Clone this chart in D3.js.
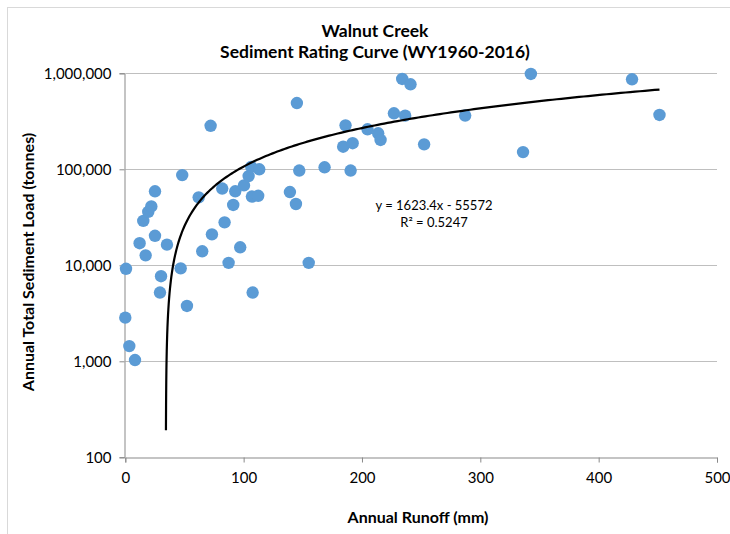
<!DOCTYPE html>
<html><head><meta charset="utf-8">
<script src="https://cdn.jsdelivr.net/npm/d3@7/dist/d3.min.js"></script>
<style>body{margin:0;background:#fff}svg{display:block}text{font-family:Lato,"Open Sans",sans-serif}</style>
</head><body><svg id="c" width="730" height="534"></svg>
<script>
const runoff = [0,0.6,3.4,8.2,12.1,15.2,17.2,19.4,22,25.1,25.1,29.3,30.2,35.2,46.8,48.1,52.1,62,65,72.1,73.2,81.9,83.9,87.3,91.2,92.9,97.1,100.3,104.2,106.4,107,107.6,112.3,113.2,139.1,144.2,145,147,155,168.4,184.1,186.1,190.4,192.1,204.7,213.7,215.7,227,234,236.5,241,252.5,287.2,336.1,342.7,428.2,451.4];
const load = [2850,9200,1440,1030,17000,29000,12700,36000,41000,20300,59000,5200,7700,16400,9300,87000,3770,51000,14000,284000,21000,63000,28000,10600,42500,59000,15400,68000,85000,106000,52000,5200,53000,100000,58000,43500,490000,97000,10600,105000,172000,287000,97000,187000,261000,237000,202000,383000,873000,362000,768000,182000,363000,151000,984000,866000,368000];
const xTicks = [0,100,200,300,400,500];
const yTicks = [100,1000,10000,100000,1000000];
const slope = 1623.4, intercept = -55572;
const trendRange = [34.35, 451.4];
const titleLines = ["Walnut Creek","Sediment Rating Curve (WY1960-2016)"];
const eqText = "y = 1623.4x - 55572", r2Text = "R² = 0.5247";

const svg = d3.select("#c");
svg.append("rect").attr("x",7.5).attr("y",7.5).attr("width",760).attr("height",560).attr("fill","#fff").attr("stroke","#d9d9d9");
const x = d3.scaleLinear().domain([0,500]).range([125.3,717]);
const y = d3.scaleLog().domain([100,1e6]).range([457.3,73.3]);

// gridlines
svg.append("g").selectAll("line").data(yTicks.slice(1)).join("line")
  .attr("x1",x(0)).attr("x2",x(500)).attr("y1",d=>Math.round(y(d))+0.5).attr("y2",d=>Math.round(y(d))+0.5)
  .attr("stroke","#bfbfbf").attr("stroke-width",1);

// axes
const xa = svg.append("g").attr("transform",`translate(0,${Math.round(y(100))+0.5})`)
  .call(d3.axisBottom(x).tickValues(xTicks).tickSize(5).tickPadding(10).tickFormat(d3.format("d")));
const ya = svg.append("g").attr("transform",`translate(${Math.round(x(0))-0.5},0)`)
  .call(d3.axisLeft(y).tickValues(yTicks).tickSize(5).tickPadding(8).tickFormat(d3.format(",")));
[xa,ya].forEach(g=>{
  g.selectAll("path,line").attr("stroke","#898989");
  g.selectAll("text").attr("font-size",15).attr("fill","#000").style("font-family","Lato,sans-serif");
});

// points
svg.append("g").selectAll("circle").data(runoff.map((r,i)=>[r,load[i]])).join("circle")
  .attr("cx",d=>x(d[0])).attr("cy",d=>y(d[1])).attr("r",6.2).attr("fill","#5b9bd5");

// trendline
const tx = d3.range(0,201).map(i=>trendRange[0]+(trendRange[1]-trendRange[0])*Math.pow(i/200,2));
svg.append("path").datum(tx).attr("fill","none").attr("stroke","#000").attr("stroke-width",2.2)
  .attr("d",d3.line().x(d=>x(d)).y(d=>y(slope*d+intercept)));

// equation
svg.append("text").attr("x",434).attr("y",210).attr("text-anchor","middle").attr("font-size",13).text(eqText);
svg.append("text").attr("x",434).attr("y",227).attr("text-anchor","middle").attr("font-size",13).text(r2Text);

// titles
svg.append("text").attr("x",375).attr("y",37).attr("text-anchor","middle").attr("font-size",17.5).attr("font-weight","bold").text(titleLines[0]);
svg.append("text").attr("x",375).attr("y",58).attr("text-anchor","middle").attr("font-size",17.5).attr("font-weight","bold").text(titleLines[1]);
svg.append("text").attr("x",418).attr("y",523).attr("text-anchor","middle").attr("font-size",16).attr("font-weight","bold").text("Annual Runoff (mm)");
svg.append("text").attr("transform","translate(34,262) rotate(-90)").attr("text-anchor","middle").attr("font-size",16).attr("font-weight","bold").text("Annual Total Sediment Load (tonnes)");
</script></body></html>
